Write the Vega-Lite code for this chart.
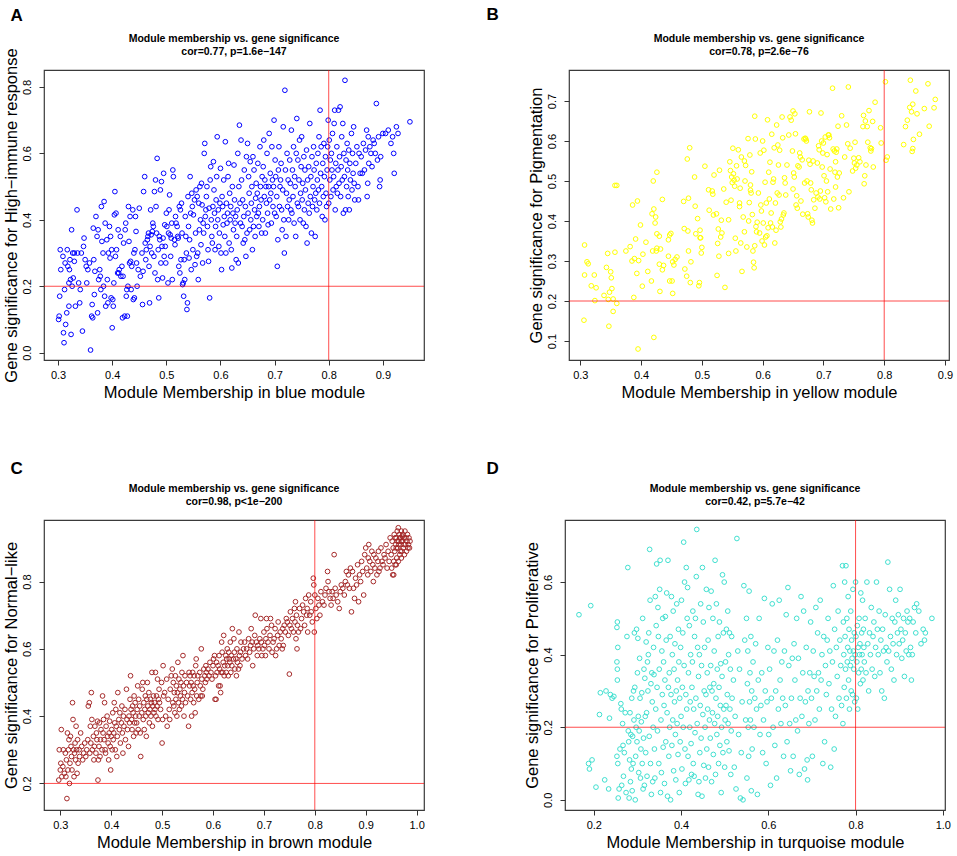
{
  "$schema": "https://vega.github.io/schema/vega-lite/v6.json",
  "background": "white",
  "padding": {"left": 2, "top": 6, "right": 0, "bottom": 0},
  "config": {
    "font": "Liberation Sans",
    "view": {"stroke": "#3a3a3a", "strokeWidth": 1.2},
    "title": {"font": "Liberation Sans", "fontSize": 10.5, "fontWeight": "bold", "lineHeight": 13, "offset": 12, "anchor": "middle", "frame": "group", "color": "#000"},
    "axis": {"domain": false, "grid": false, "tickColor": "#333", "tickSize": 5, "tickWidth": 1, "labelFont": "Liberation Sans", "labelFontSize": 11, "labelColor": "#000", "labelPadding": 4, "labelFlush": false, "labelOverlap": false, "titleFont": "Liberation Sans", "titleFontSize": 16.5, "titleFontWeight": "normal", "titleColor": "#000", "titlePadding": 4},
    "axisY": {"labelAngle": -90, "labelAlign": "center", "labelBaseline": "bottom", "labelPadding": 7, "titlePadding": 2}
  },
  "datasets": {
    "A": [
      {"x":0.301,"y":0.10},{"x":0.302,"y":0.11},{"x":0.303,"y":0.17},{"x":0.304,"y":0.31},{"x":0.305,"y":0.25},{"x":0.309,"y":0.29},{"x":0.31,"y":0.06},{"x":0.311,"y":0.03},{"x":0.312,"y":0.19},{"x":0.313,"y":0.27},{"x":0.314,"y":0.085},{"x":0.316,"y":0.12},{"x":0.317,"y":0.31},{"x":0.318,"y":0.26},{"x":0.32,"y":0.14},{"x":0.32,"y":0.21},{"x":0.321,"y":0.25},{"x":0.322,"y":0.28},{"x":0.323,"y":0.22},{"x":0.324,"y":0.055},{"x":0.325,"y":0.37},{"x":0.326,"y":0.2},{"x":0.327,"y":0.3},{"x":0.328,"y":0.225},{"x":0.33,"y":0.3},{"x":0.33,"y":0.275},{"x":0.332,"y":0.14},{"x":0.335,"y":0.43},{"x":0.336,"y":0.3},{"x":0.338,"y":0.21},{"x":0.34,"y":0.15},{"x":0.341,"y":0.19},{"x":0.343,"y":0.3},{"x":0.345,"y":0.065},{"x":0.347,"y":0.32},{"x":0.348,"y":0.345},{"x":0.35,"y":0.28},{"x":0.352,"y":0.26},{"x":0.353,"y":0.21},{"x":0.355,"y":0.25},
      {"x":0.358,"y":0.27},{"x":0.36,"y":0.008},{"x":0.362,"y":0.11},{"x":0.363,"y":0.145},{"x":0.364,"y":0.105},{"x":0.365,"y":0.375},{"x":0.366,"y":0.28},{"x":0.367,"y":0.175},{"x":0.368,"y":0.245},{"x":0.37,"y":0.41},{"x":0.372,"y":0.35},{"x":0.373,"y":0.12},{"x":0.374,"y":0.37},{"x":0.375,"y":0.22},{"x":0.377,"y":0.25},{"x":0.378,"y":0.23},{"x":0.379,"y":0.19},{"x":0.38,"y":0.44},{"x":0.381,"y":0.335},{"x":0.383,"y":0.3},{"x":0.384,"y":0.2},{"x":0.385,"y":0.455},{"x":0.386,"y":0.17},{"x":0.387,"y":0.39},{"x":0.388,"y":0.14},{"x":0.39,"y":0.34},{"x":0.391,"y":0.22},{"x":0.392,"y":0.15},{"x":0.393,"y":0.3},{"x":0.395,"y":0.38},{"x":0.396,"y":0.285},{"x":0.397,"y":0.35},{"x":0.398,"y":0.165},{"x":0.399,"y":0.31},{"x":0.4,"y":0.075},
      {"x":0.401,"y":0.16},{"x":0.402,"y":0.14},{"x":0.403,"y":0.21},{"x":0.404,"y":0.415},{"x":0.405,"y":0.485},{"x":0.406,"y":0.29},{"x":0.407,"y":0.42},{"x":0.408,"y":0.31},{"x":0.41,"y":0.24},{"x":0.411,"y":0.37},{"x":0.412,"y":0.24},{"x":0.413,"y":0.25},{"x":0.415,"y":0.35},{"x":0.416,"y":0.23},{"x":0.418,"y":0.26},{"x":0.419,"y":0.105},{"x":0.42,"y":0.23},{"x":0.421,"y":0.33},{"x":0.423,"y":0.11},{"x":0.424,"y":0.37},{"x":0.425,"y":0.39},{"x":0.426,"y":0.17},{"x":0.427,"y":0.19},{"x":0.428,"y":0.11},{"x":0.429,"y":0.2},{"x":0.43,"y":0.44},{"x":0.431,"y":0.335},{"x":0.432,"y":0.27},{"x":0.433,"y":0.41},{"x":0.434,"y":0.275},{"x":0.435,"y":0.19},{"x":0.436,"y":0.26},{"x":0.438,"y":0.43},{"x":0.439,"y":0.16},{"x":0.44,"y":0.3},{"x":0.441,"y":0.165},{"x":0.442,"y":0.31},{"x":0.443,"y":0.41},{"x":0.444,"y":0.365},{"x":0.445,"y":0.27},{"x":0.446,"y":0.2},{"x":0.448,"y":0.25},{"x":0.45,"y":0.435},
      {"x":0.452,"y":0.23},{"x":0.455,"y":0.3},{"x":0.456,"y":0.145},{"x":0.457,"y":0.245},{"x":0.458,"y":0.485},{"x":0.46,"y":0.53},{"x":0.461,"y":0.33},{"x":0.462,"y":0.28},{"x":0.463,"y":0.31},{"x":0.465,"y":0.34},{"x":0.466,"y":0.35},{"x":0.467,"y":0.36},{"x":0.468,"y":0.26},{"x":0.469,"y":0.15},{"x":0.47,"y":0.32},{"x":0.471,"y":0.43},{"x":0.472,"y":0.355},{"x":0.473,"y":0.3},{"x":0.474,"y":0.365},{"x":0.475,"y":0.39},{"x":0.476,"y":0.38},{"x":0.477,"y":0.29},{"x":0.478,"y":0.485},{"x":0.479,"y":0.24},{"x":0.48,"y":0.52},{"x":0.481,"y":0.44},{"x":0.482,"y":0.36},{"x":0.483,"y":0.585},{"x":0.484,"y":0.22},{"x":0.485,"y":0.31},{"x":0.486,"y":0.165},{"x":0.487,"y":0.35},{"x":0.488,"y":0.34},{"x":0.489,"y":0.49},{"x":0.49,"y":0.27},{"x":0.491,"y":0.515},{"x":0.492,"y":0.32},{"x":0.493,"y":0.225},{"x":0.494,"y":0.345},{"x":0.495,"y":0.54},{"x":0.496,"y":0.29},{"x":0.497,"y":0.385},{"x":0.498,"y":0.32},{"x":0.499,"y":0.27},{"x":0.5,"y":0.42},
      {"x":0.501,"y":0.38},{"x":0.503,"y":0.21},{"x":0.504,"y":0.36},{"x":0.505,"y":0.43},{"x":0.506,"y":0.475},{"x":0.507,"y":0.355},{"x":0.508,"y":0.29},{"x":0.509,"y":0.345},{"x":0.51,"y":0.39},{"x":0.511,"y":0.22},{"x":0.512,"y":0.55},{"x":0.513,"y":0.53},{"x":0.515,"y":0.34},{"x":0.516,"y":0.325},{"x":0.517,"y":0.41},{"x":0.518,"y":0.39},{"x":0.52,"y":0.38},{"x":0.521,"y":0.35},{"x":0.522,"y":0.345},{"x":0.523,"y":0.26},{"x":0.524,"y":0.44},{"x":0.525,"y":0.24},{"x":0.526,"y":0.43},{"x":0.527,"y":0.28},{"x":0.528,"y":0.45},{"x":0.529,"y":0.36},{"x":0.53,"y":0.205},{"x":0.531,"y":0.21},{"x":0.532,"y":0.17},{"x":0.533,"y":0.28},{"x":0.534,"y":0.22},{"x":0.535,"y":0.41},{"x":0.536,"y":0.35},{"x":0.537,"y":0.3},{"x":0.538,"y":0.13},{"x":0.539,"y":0.15},{"x":0.54,"y":0.47},{"x":0.541,"y":0.38},{"x":0.542,"y":0.285},{"x":0.543,"y":0.34},{"x":0.544,"y":0.53},{"x":0.545,"y":0.42},{"x":0.546,"y":0.25},{"x":0.547,"y":0.48},{"x":0.548,"y":0.44},{"x":0.549,"y":0.31},
      {"x":0.55,"y":0.415},{"x":0.552,"y":0.46},{"x":0.553,"y":0.265},{"x":0.554,"y":0.36},{"x":0.555,"y":0.49},{"x":0.556,"y":0.29},{"x":0.557,"y":0.47},{"x":0.558,"y":0.3},{"x":0.559,"y":0.22},{"x":0.56,"y":0.45},{"x":0.561,"y":0.37},{"x":0.562,"y":0.5},{"x":0.563,"y":0.4},{"x":0.564,"y":0.325},{"x":0.565,"y":0.51},{"x":0.566,"y":0.445},{"x":0.567,"y":0.27},{"x":0.568,"y":0.39},{"x":0.569,"y":0.36},{"x":0.57,"y":0.6},{"x":0.571,"y":0.63},{"x":0.572,"y":0.41},{"x":0.573,"y":0.43},{"x":0.574,"y":0.47},{"x":0.575,"y":0.5},{"x":0.576,"y":0.38},{"x":0.577,"y":0.31},{"x":0.578,"y":0.275},{"x":0.579,"y":0.435},{"x":0.58,"y":0.165},{"x":0.581,"y":0.52},{"x":0.582,"y":0.56},{"x":0.583,"y":0.4},{"x":0.584,"y":0.35},{"x":0.585,"y":0.33},{"x":0.586,"y":0.44},{"x":0.587,"y":0.575},{"x":0.588,"y":0.49},{"x":0.589,"y":0.42},{"x":0.59,"y":0.31},{"x":0.591,"y":0.38},{"x":0.592,"y":0.46},{"x":0.593,"y":0.53},{"x":0.594,"y":0.65},{"x":0.595,"y":0.4},{"x":0.596,"y":0.43},{"x":0.597,"y":0.32},{"x":0.598,"y":0.36},{"x":0.599,"y":0.45},
      {"x":0.6,"y":0.555},{"x":0.601,"y":0.3},{"x":0.602,"y":0.25},{"x":0.603,"y":0.47},{"x":0.604,"y":0.44},{"x":0.605,"y":0.385},{"x":0.606,"y":0.52},{"x":0.607,"y":0.41},{"x":0.608,"y":0.35},{"x":0.609,"y":0.635},{"x":0.61,"y":0.3},{"x":0.611,"y":0.45},{"x":0.612,"y":0.39},{"x":0.613,"y":0.42},{"x":0.614,"y":0.53},{"x":0.615,"y":0.57},{"x":0.616,"y":0.33},{"x":0.617,"y":0.48},{"x":0.618,"y":0.4},{"x":0.619,"y":0.44},{"x":0.62,"y":0.31},{"x":0.621,"y":0.255},{"x":0.622,"y":0.5},{"x":0.623,"y":0.42},{"x":0.624,"y":0.37},{"x":0.625,"y":0.565},{"x":0.626,"y":0.46},{"x":0.627,"y":0.39},{"x":0.628,"y":0.41},{"x":0.629,"y":0.28},{"x":0.63,"y":0.35},{"x":0.631,"y":0.43},{"x":0.632,"y":0.6},{"x":0.633,"y":0.27},{"x":0.634,"y":0.5},{"x":0.635,"y":0.685},{"x":0.636,"y":0.45},{"x":0.637,"y":0.39},{"x":0.638,"y":0.64},{"x":0.639,"y":0.52},{"x":0.64,"y":0.38},{"x":0.641,"y":0.46},{"x":0.642,"y":0.33},{"x":0.643,"y":0.41},{"x":0.644,"y":0.55},{"x":0.645,"y":0.34},{"x":0.646,"y":0.44},{"x":0.647,"y":0.29},{"x":0.648,"y":0.59},{"x":0.649,"y":0.36},
      {"x":0.65,"y":0.63},{"x":0.651,"y":0.42},{"x":0.652,"y":0.53},{"x":0.653,"y":0.48},{"x":0.654,"y":0.37},{"x":0.655,"y":0.575},{"x":0.656,"y":0.4},{"x":0.657,"y":0.45},{"x":0.658,"y":0.5},{"x":0.659,"y":0.31},{"x":0.66,"y":0.59},{"x":0.661,"y":0.38},{"x":0.662,"y":0.55},{"x":0.663,"y":0.43},{"x":0.664,"y":0.35},{"x":0.665,"y":0.465},{"x":0.666,"y":0.51},{"x":0.667,"y":0.41},{"x":0.668,"y":0.48},{"x":0.669,"y":0.57},{"x":0.67,"y":0.42},{"x":0.671,"y":0.38},{"x":0.672,"y":0.44},{"x":0.673,"y":0.62},{"x":0.674,"y":0.5},{"x":0.675,"y":0.46},{"x":0.676,"y":0.36},{"x":0.677,"y":0.53},{"x":0.678,"y":0.4},{"x":0.679,"y":0.56},{"x":0.68,"y":0.64},{"x":0.681,"y":0.47},{"x":0.682,"y":0.52},{"x":0.683,"y":0.36},{"x":0.684,"y":0.5},{"x":0.685,"y":0.45},{"x":0.686,"y":0.6},{"x":0.687,"y":0.42},{"x":0.688,"y":0.385},{"x":0.689,"y":0.5},{"x":0.69,"y":0.66},{"x":0.691,"y":0.46},{"x":0.692,"y":0.54},{"x":0.693,"y":0.48},{"x":0.694,"y":0.39},{"x":0.695,"y":0.62},{"x":0.696,"y":0.52},{"x":0.697,"y":0.44},{"x":0.698,"y":0.5},{"x":0.699,"y":0.7},
      {"x":0.7,"y":0.42},{"x":0.701,"y":0.58},{"x":0.702,"y":0.53},{"x":0.703,"y":0.41},{"x":0.704,"y":0.47},{"x":0.705,"y":0.26},{"x":0.706,"y":0.34},{"x":0.707,"y":0.55},{"x":0.708,"y":0.62},{"x":0.709,"y":0.44},{"x":0.71,"y":0.5},{"x":0.711,"y":0.52},{"x":0.712,"y":0.57},{"x":0.713,"y":0.43},{"x":0.714,"y":0.37},{"x":0.715,"y":0.49},{"x":0.716,"y":0.68},{"x":0.717,"y":0.4},{"x":0.718,"y":0.3},{"x":0.719,"y":0.79},{"x":0.72,"y":0.55},{"x":0.721,"y":0.35},{"x":0.722,"y":0.48},{"x":0.723,"y":0.6},{"x":0.724,"y":0.44},{"x":0.725,"y":0.52},{"x":0.726,"y":0.4},{"x":0.727,"y":0.46},{"x":0.728,"y":0.58},{"x":0.729,"y":0.51},{"x":0.73,"y":0.43},{"x":0.731,"y":0.67},{"x":0.732,"y":0.42},{"x":0.733,"y":0.55},{"x":0.734,"y":0.47},{"x":0.735,"y":0.62},{"x":0.736,"y":0.39},{"x":0.737,"y":0.53},{"x":0.738,"y":0.5},{"x":0.739,"y":0.35},{"x":0.74,"y":0.6},{"x":0.741,"y":0.705},{"x":0.742,"y":0.45},{"x":0.743,"y":0.58},{"x":0.744,"y":0.44},{"x":0.745,"y":0.52},{"x":0.746,"y":0.64},{"x":0.747,"y":0.4},{"x":0.748,"y":0.48},{"x":0.749,"y":0.56},
      {"x":0.75,"y":0.65},{"x":0.751,"y":0.46},{"x":0.752,"y":0.51},{"x":0.753,"y":0.39},{"x":0.754,"y":0.59},{"x":0.755,"y":0.43},{"x":0.756,"y":0.55},{"x":0.757,"y":0.49},{"x":0.758,"y":0.38},{"x":0.759,"y":0.61},{"x":0.76,"y":0.33},{"x":0.761,"y":0.52},{"x":0.762,"y":0.45},{"x":0.763,"y":0.56},{"x":0.764,"y":0.42},{"x":0.765,"y":0.69},{"x":0.766,"y":0.47},{"x":0.767,"y":0.53},{"x":0.768,"y":0.36},{"x":0.769,"y":0.59},{"x":0.77,"y":0.44},{"x":0.771,"y":0.5},{"x":0.772,"y":0.62},{"x":0.773,"y":0.55},{"x":0.774,"y":0.46},{"x":0.775,"y":0.35},{"x":0.776,"y":0.48},{"x":0.777,"y":0.57},{"x":0.778,"y":0.43},{"x":0.779,"y":0.52},{"x":0.78,"y":0.6},{"x":0.781,"y":0.49},{"x":0.782,"y":0.65},{"x":0.783,"y":0.45},{"x":0.784,"y":0.73},{"x":0.785,"y":0.54},{"x":0.786,"y":0.62},{"x":0.787,"y":0.5},{"x":0.788,"y":0.41},{"x":0.789,"y":0.57},{"x":0.79,"y":0.47},{"x":0.791,"y":0.63},{"x":0.792,"y":0.53},{"x":0.793,"y":0.4},{"x":0.794,"y":0.59},{"x":0.795,"y":0.48},{"x":0.796,"y":0.44},{"x":0.797,"y":0.55},{"x":0.798,"y":0.62},{"x":0.799,"y":0.7},
      {"x":0.8,"y":0.45},{"x":0.801,"y":0.64},{"x":0.802,"y":0.52},{"x":0.803,"y":0.58},{"x":0.804,"y":0.47},{"x":0.805,"y":0.6},{"x":0.806,"y":0.55},{"x":0.807,"y":0.66},{"x":0.808,"y":0.49},{"x":0.809,"y":0.53},{"x":0.81,"y":0.69},{"x":0.811,"y":0.73},{"x":0.812,"y":0.43},{"x":0.813,"y":0.57},{"x":0.814,"y":0.5},{"x":0.815,"y":0.62},{"x":0.816,"y":0.48},{"x":0.817,"y":0.55},{"x":0.818,"y":0.73},{"x":0.819,"y":0.51},{"x":0.82,"y":0.59},{"x":0.821,"y":0.74},{"x":0.822,"y":0.47},{"x":0.823,"y":0.56},{"x":0.824,"y":0.65},{"x":0.825,"y":0.52},{"x":0.826,"y":0.69},{"x":0.827,"y":0.42},{"x":0.828,"y":0.6},{"x":0.829,"y":0.53},{"x":0.83,"y":0.82},{"x":0.831,"y":0.43},{"x":0.832,"y":0.58},{"x":0.833,"y":0.5},{"x":0.834,"y":0.63},{"x":0.835,"y":0.55},{"x":0.836,"y":0.47},{"x":0.837,"y":0.61},{"x":0.838,"y":0.43},{"x":0.839,"y":0.57},{"x":0.84,"y":0.52},{"x":0.842,"y":0.66},{"x":0.843,"y":0.49},{"x":0.844,"y":0.6},{"x":0.845,"y":0.54},{"x":0.846,"y":0.68},{"x":0.847,"y":0.51},{"x":0.848,"y":0.46},
      {"x":0.85,"y":0.57},{"x":0.852,"y":0.62},{"x":0.854,"y":0.5},{"x":0.855,"y":0.46},{"x":0.856,"y":0.6},{"x":0.858,"y":0.54},{"x":0.86,"y":0.59},{"x":0.862,"y":0.54},{"x":0.864,"y":0.63},{"x":0.866,"y":0.55},{"x":0.868,"y":0.61},{"x":0.87,"y":0.67},{"x":0.871,"y":0.47},{"x":0.872,"y":0.51},{"x":0.873,"y":0.65},{"x":0.874,"y":0.57},{"x":0.876,"y":0.62},{"x":0.878,"y":0.6},{"x":0.88,"y":0.56},{"x":0.882,"y":0.64},{"x":0.884,"y":0.63},{"x":0.886,"y":0.6},{"x":0.888,"y":0.75},{"x":0.89,"y":0.58},{"x":0.892,"y":0.65},{"x":0.894,"y":0.5},{"x":0.895,"y":0.52},{"x":0.896,"y":0.59},{"x":0.9,"y":0.66},{"x":0.905,"y":0.66},{"x":0.91,"y":0.67},{"x":0.915,"y":0.63},{"x":0.918,"y":0.65},{"x":0.92,"y":0.6},{"x":0.921,"y":0.54},{"x":0.925,"y":0.68},{"x":0.928,"y":0.66},{"x":0.95,"y":0.695}
    ],
    "B": [
      {"x":0.307,"y":0.34},{"x":0.307,"y":0.265},{"x":0.306,"y":0.152},{"x":0.311,"y":0.298},{"x":0.313,"y":0.293},{"x":0.318,"y":0.238},{"x":0.323,"y":0.265},{"x":0.324,"y":0.201},{"x":0.326,"y":0.233},{"x":0.339,"y":0.214},{"x":0.343,"y":0.284},{"x":0.345,"y":0.319},{"x":0.346,"y":0.204},{"x":0.347,"y":0.137},{"x":0.348,"y":0.222},{"x":0.35,"y":0.273},{"x":0.351,"y":0.258},{"x":0.352,"y":0.231},{"x":0.354,"y":0.174},{"x":0.354,"y":0.205},{"x":0.357,"y":0.489},{"x":0.36,"y":0.489},{"x":0.357,"y":0.322},{"x":0.36,"y":0.194},{"x":0.375,"y":0.325},{"x":0.382,"y":0.336},{"x":0.385,"y":0.3},{"x":0.386,"y":0.44},{"x":0.389,"y":0.306},{"x":0.388,"y":0.209},{"x":0.391,"y":0.355},{"x":0.393,"y":0.269},{"x":0.394,"y":0.45},{"x":0.395,"y":0.08},{"x":0.396,"y":0.301},{"x":0.399,"y":0.39},
      {"x":0.402,"y":0.237},{"x":0.403,"y":0.317},{"x":0.408,"y":0.347},{"x":0.411,"y":0.274},{"x":0.417,"y":0.25},{"x":0.418,"y":0.418},{"x":0.419,"y":0.325},{"x":0.42,"y":0.5},{"x":0.421,"y":0.43},{"x":0.421,"y":0.109},{"x":0.423,"y":0.395},{"x":0.424,"y":0.41},{"x":0.425,"y":0.325},{"x":0.426,"y":0.522},{"x":0.426,"y":0.368},{"x":0.426,"y":0.332},{"x":0.43,"y":0.362},{"x":0.43,"y":0.292},{"x":0.431,"y":0.224},{"x":0.432,"y":0.33},{"x":0.435,"y":0.454},{"x":0.435,"y":0.278},{"x":0.437,"y":0.289},{"x":0.445,"y":0.312},{"x":0.445,"y":0.353},{"x":0.447,"y":0.365},{"x":0.447,"y":0.25},{"x":0.449,"y":0.369},{"x":0.451,"y":0.25},{"x":0.452,"y":0.219},{"x":0.452,"y":0.298},{"x":0.454,"y":0.29},{"x":0.456,"y":0.304},{"x":0.459,"y":0.31},{"x":0.47,"y":0.449},{"x":0.471,"y":0.381},{"x":0.472,"y":0.28},{"x":0.475,"y":0.262},{"x":0.476,"y":0.555},{"x":0.477,"y":0.375},{"x":0.478,"y":0.457},{"x":0.478,"y":0.325},{"x":0.48,"y":0.583},{"x":0.481,"y":0.246},{"x":0.482,"y":0.298},{"x":0.488,"y":0.51},{"x":0.489,"y":0.437},{"x":0.49,"y":0.368},{"x":0.493,"y":0.406},{"x":0.495,"y":0.238},{"x":0.496,"y":0.246},{"x":0.497,"y":0.377},{"x":0.497,"y":0.358},{"x":0.498,"y":0.358},{"x":0.499,"y":0.32},{"x":0.5,"y":0.334},
      {"x":0.505,"y":0.537},{"x":0.511,"y":0.478},{"x":0.512,"y":0.427},{"x":0.517,"y":0.475},{"x":0.518,"y":0.467},{"x":0.519,"y":0.415},{"x":0.52,"y":0.515},{"x":0.524,"y":0.418},{"x":0.525,"y":0.264},{"x":0.526,"y":0.344},{"x":0.527,"y":0.38},{"x":0.528,"y":0.312},{"x":0.529,"y":0.527},{"x":0.531,"y":0.36},{"x":0.532,"y":0.402},{"x":0.533,"y":0.37},{"x":0.536,"y":0.48},{"x":0.538,"y":0.234},{"x":0.54,"y":0.447},{"x":0.544,"y":0.403},{"x":0.544,"y":0.319},{"x":0.546,"y":0.548},{"x":0.547,"y":0.526},{"x":0.548,"y":0.452},{"x":0.549,"y":0.51},{"x":0.55,"y":0.496},{"x":0.551,"y":0.582},{"x":0.552,"y":0.518},{"x":0.553,"y":0.502},{"x":0.554,"y":0.487},{"x":0.555,"y":0.357},{"x":0.556,"y":0.325},{"x":0.557,"y":0.538},{"x":0.558,"y":0.505},{"x":0.56,"y":0.578},{"x":0.562,"y":0.436},{"x":0.562,"y":0.445},{"x":0.563,"y":0.482},{"x":0.564,"y":0.345},{"x":0.565,"y":0.56},{"x":0.566,"y":0.274},{"x":0.568,"y":0.41},{"x":0.57,"y":0.373},{"x":0.57,"y":0.55},{"x":0.571,"y":0.5},{"x":0.572,"y":0.539},{"x":0.574,"y":0.335},{"x":0.576,"y":0.606},{"x":0.577,"y":0.4},{"x":0.578,"y":0.446},{"x":0.579,"y":0.565},{"x":0.58,"y":0.49},{"x":0.58,"y":0.477},{"x":0.581,"y":0.47},{"x":0.582,"y":0.523},{"x":0.583,"y":0.416},{"x":0.584,"y":0.325},{"x":0.585,"y":0.297},{"x":0.586,"y":0.283},{"x":0.587,"y":0.338},{"x":0.587,"y":0.662},{"x":0.588,"y":0.605},{"x":0.589,"y":0.386},{"x":0.59,"y":0.373},{"x":0.591,"y":0.397},{"x":0.593,"y":0.47},{"x":0.595,"y":0.37},{"x":0.596,"y":0.57},{"x":0.597,"y":0.44},{"x":0.598,"y":0.425},{"x":0.599,"y":0.35},
      {"x":0.6,"y":0.6},{"x":0.601,"y":0.395},{"x":0.602,"y":0.577},{"x":0.603,"y":0.34},{"x":0.604,"y":0.497},{"x":0.605,"y":0.36},{"x":0.606,"y":0.445},{"x":0.607,"y":0.363},{"x":0.608,"y":0.653},{"x":0.609,"y":0.383},{"x":0.61,"y":0.522},{"x":0.611,"y":0.455},{"x":0.612,"y":0.547},{"x":0.613,"y":0.395},{"x":0.614,"y":0.42},{"x":0.615,"y":0.617},{"x":0.616,"y":0.385},{"x":0.617,"y":0.497},{"x":0.618,"y":0.505},{"x":0.619,"y":0.583},{"x":0.62,"y":0.345},{"x":0.621,"y":0.445},{"x":0.622,"y":0.377},{"x":0.623,"y":0.64},{"x":0.624,"y":0.47},{"x":0.625,"y":0.59},{"x":0.626,"y":0.54},{"x":0.627,"y":0.465},{"x":0.628,"y":0.577},{"x":0.629,"y":0.398},{"x":0.63,"y":0.385},{"x":0.631,"y":0.405},{"x":0.632,"y":0.66},{"x":0.633,"y":0.608},{"x":0.634,"y":0.415},{"x":0.635,"y":0.42},{"x":0.636,"y":0.508},{"x":0.637,"y":0.495},{"x":0.638,"y":0.465},{"x":0.64,"y":0.54},{"x":0.643,"y":0.615},{"x":0.645,"y":0.66},{"x":0.647,"y":0.652},{"x":0.649,"y":0.575},{"x":0.65,"y":0.675},{"x":0.65,"y":0.48},{"x":0.651,"y":0.52},{"x":0.652,"y":0.51},{"x":0.653,"y":0.668},{"x":0.654,"y":0.618},{"x":0.655,"y":0.44},{"x":0.656,"y":0.463},{"x":0.657,"y":0.432},{"x":0.658,"y":0.538},{"x":0.66,"y":0.535},{"x":0.661,"y":0.57},{"x":0.662,"y":0.56},{"x":0.663,"y":0.45},{"x":0.665,"y":0.553},{"x":0.666,"y":0.417},{"x":0.668,"y":0.605},{"x":0.669,"y":0.495},{"x":0.67,"y":0.607},{"x":0.671,"y":0.605},{"x":0.672,"y":0.6},{"x":0.673,"y":0.5},{"x":0.674,"y":0.418},{"x":0.675,"y":0.41},{"x":0.676,"y":0.552},{"x":0.677,"y":0.673},{"x":0.678,"y":0.542},{"x":0.679,"y":0.495},{"x":0.68,"y":0.478},{"x":0.681,"y":0.402},{"x":0.682,"y":0.395},{"x":0.683,"y":0.55},{"x":0.684,"y":0.453},{"x":0.686,"y":0.432},{"x":0.688,"y":0.47},{"x":0.69,"y":0.545},{"x":0.691,"y":0.46},{"x":0.692,"y":0.588},{"x":0.693,"y":0.578},{"x":0.694,"y":0.455},{"x":0.695,"y":0.475},{"x":0.696,"y":0.67},{"x":0.697,"y":0.6},{"x":0.698,"y":0.535},{"x":0.699,"y":0.57},{"x":0.7,"y":0.595},
      {"x":0.701,"y":0.513},{"x":0.702,"y":0.458},{"x":0.703,"y":0.61},{"x":0.704,"y":0.448},{"x":0.705,"y":0.5},{"x":0.706,"y":0.566},{"x":0.707,"y":0.473},{"x":0.708,"y":0.615},{"x":0.709,"y":0.615},{"x":0.71,"y":0.608},{"x":0.711,"y":0.53},{"x":0.712,"y":0.43},{"x":0.715,"y":0.732},{"x":0.716,"y":0.58},{"x":0.717,"y":0.455},{"x":0.718,"y":0.575},{"x":0.719,"y":0.522},{"x":0.72,"y":0.485},{"x":0.72,"y":0.548},{"x":0.721,"y":0.572},{"x":0.722,"y":0.58},{"x":0.723,"y":0.51},{"x":0.724,"y":0.637},{"x":0.725,"y":0.433},{"x":0.726,"y":0.52},{"x":0.73,"y":0.663},{"x":0.733,"y":0.458},{"x":0.735,"y":0.56},{"x":0.738,"y":0.64},{"x":0.74,"y":0.593},{"x":0.741,"y":0.735},{"x":0.742,"y":0.473},{"x":0.744,"y":0.582},{"x":0.748,"y":0.525},{"x":0.75,"y":0.557},{"x":0.751,"y":0.545},{"x":0.752,"y":0.597},{"x":0.753,"y":0.532},{"x":0.755,"y":0.54},{"x":0.758,"y":0.558},{"x":0.76,"y":0.548},{"x":0.765,"y":0.636},{"x":0.766,"y":0.664},{"x":0.767,"y":0.493},{"x":0.768,"y":0.513},{"x":0.769,"y":0.65},{"x":0.77,"y":0.54},{"x":0.772,"y":0.636},{"x":0.773,"y":0.597},{"x":0.775,"y":0.676},{"x":0.777,"y":0.583},{"x":0.778,"y":0.575},{"x":0.779,"y":0.581},{"x":0.781,"y":0.649},{"x":0.782,"y":0.535},{"x":0.785,"y":0.697},{"x":0.794,"y":0.633},{"x":0.795,"y":0.595},
      {"x":0.802,"y":0.748},{"x":0.803,"y":0.552},{"x":0.805,"y":0.56},{"x":0.832,"y":0.591},{"x":0.835,"y":0.636},{"x":0.838,"y":0.652},{"x":0.842,"y":0.684},{"x":0.843,"y":0.752},{"x":0.845,"y":0.673},{"x":0.846,"y":0.574},{"x":0.847,"y":0.692},{"x":0.847,"y":0.581},{"x":0.848,"y":0.604},{"x":0.852,"y":0.725},{"x":0.854,"y":0.668},{"x":0.858,"y":0.617},{"x":0.866,"y":0.681},{"x":0.872,"y":0.743},{"x":0.874,"y":0.637},{"x":0.882,"y":0.683},{"x":0.884,"y":0.704}
    ],
    "C": [
      {"x":0.297,"y":0.21},{"x":0.298,"y":0.30},{"x":0.3,"y":0.24},{"x":0.301,"y":0.26},{"x":0.302,"y":0.36},{"x":0.303,"y":0.22},{"x":0.305,"y":0.25},{"x":0.306,"y":0.30},{"x":0.308,"y":0.23},{"x":0.31,"y":0.29},{"x":0.311,"y":0.22},{"x":0.312,"y":0.27},{"x":0.313,"y":0.155},{"x":0.314,"y":0.35},{"x":0.315,"y":0.24},{"x":0.316,"y":0.3},{"x":0.317,"y":0.33},{"x":0.318,"y":0.2},{"x":0.319,"y":0.26},{"x":0.32,"y":0.34},{"x":0.321,"y":0.31},{"x":0.322,"y":0.28},{"x":0.323,"y":0.24},{"x":0.324,"y":0.44},{"x":0.325,"y":0.39},{"x":0.326,"y":0.3},{"x":0.327,"y":0.22},{"x":0.328,"y":0.29},{"x":0.329,"y":0.32},{"x":0.33,"y":0.27},{"x":0.331,"y":0.37},{"x":0.332,"y":0.3},{"x":0.333,"y":0.23},{"x":0.334,"y":0.33},{"x":0.335,"y":0.26},{"x":0.337,"y":0.3},{"x":0.338,"y":0.28},{"x":0.34,"y":0.35},{"x":0.342,"y":0.31},{"x":0.344,"y":0.27},{"x":0.346,"y":0.29},{"x":0.348,"y":0.32},{"x":0.35,"y":0.28},
      {"x":0.352,"y":0.3},{"x":0.354,"y":0.33},{"x":0.355,"y":0.43},{"x":0.357,"y":0.44},{"x":0.358,"y":0.29},{"x":0.359,"y":0.37},{"x":0.36,"y":0.32},{"x":0.361,"y":0.47},{"x":0.362,"y":0.39},{"x":0.363,"y":0.3},{"x":0.365,"y":0.34},{"x":0.366,"y":0.27},{"x":0.367,"y":0.31},{"x":0.368,"y":0.37},{"x":0.37,"y":0.29},{"x":0.371,"y":0.35},{"x":0.372,"y":0.33},{"x":0.373,"y":0.385},{"x":0.374,"y":0.21},{"x":0.375,"y":0.27},{"x":0.376,"y":0.31},{"x":0.377,"y":0.38},{"x":0.378,"y":0.28},{"x":0.379,"y":0.33},{"x":0.38,"y":0.36},{"x":0.382,"y":0.3},{"x":0.383,"y":0.46},{"x":0.384,"y":0.35},{"x":0.385,"y":0.39},{"x":0.386,"y":0.33},{"x":0.387,"y":0.44},{"x":0.388,"y":0.3},{"x":0.389,"y":0.29},{"x":0.39,"y":0.37},{"x":0.392,"y":0.4},{"x":0.393,"y":0.34},{"x":0.394,"y":0.32},{"x":0.395,"y":0.27},{"x":0.396,"y":0.35},{"x":0.397,"y":0.385},{"x":0.398,"y":0.31},{"x":0.399,"y":0.24},{"x":0.4,"y":0.34},
      {"x":0.401,"y":0.36},{"x":0.402,"y":0.3},{"x":0.403,"y":0.41},{"x":0.404,"y":0.33},{"x":0.405,"y":0.35},{"x":0.406,"y":0.44},{"x":0.407,"y":0.38},{"x":0.408,"y":0.3},{"x":0.409,"y":0.42},{"x":0.41,"y":0.37},{"x":0.411,"y":0.28},{"x":0.412,"y":0.34},{"x":0.413,"y":0.47},{"x":0.415,"y":0.39},{"x":0.416,"y":0.36},{"x":0.417,"y":0.41},{"x":0.418,"y":0.32},{"x":0.42,"y":0.38},{"x":0.421,"y":0.43},{"x":0.422,"y":0.35},{"x":0.423,"y":0.29},{"x":0.424,"y":0.4},{"x":0.425,"y":0.37},{"x":0.427,"y":0.42},{"x":0.428,"y":0.33},{"x":0.43,"y":0.48},{"x":0.431,"y":0.39},{"x":0.432,"y":0.36},{"x":0.434,"y":0.31},{"x":0.435,"y":0.4},{"x":0.436,"y":0.38},{"x":0.437,"y":0.45},{"x":0.438,"y":0.52},{"x":0.439,"y":0.42},{"x":0.44,"y":0.39},{"x":0.441,"y":0.36},{"x":0.442,"y":0.43},{"x":0.443,"y":0.41},{"x":0.444,"y":0.34},{"x":0.445,"y":0.46},{"x":0.446,"y":0.38},{"x":0.447,"y":0.44},{"x":0.448,"y":0.4},{"x":0.449,"y":0.35},
      {"x":0.45,"y":0.38},{"x":0.451,"y":0.42},{"x":0.452,"y":0.49},{"x":0.453,"y":0.36},{"x":0.454,"y":0.45},{"x":0.455,"y":0.4},{"x":0.456,"y":0.43},{"x":0.457,"y":0.35},{"x":0.458,"y":0.28},{"x":0.46,"y":0.41},{"x":0.461,"y":0.48},{"x":0.462,"y":0.5},{"x":0.463,"y":0.39},{"x":0.464,"y":0.44},{"x":0.465,"y":0.36},{"x":0.466,"y":0.42},{"x":0.467,"y":0.46},{"x":0.468,"y":0.4},{"x":0.469,"y":0.34},{"x":0.47,"y":0.45},{"x":0.471,"y":0.5},{"x":0.472,"y":0.43},{"x":0.473,"y":0.41},{"x":0.474,"y":0.47},{"x":0.475,"y":0.38},{"x":0.476,"y":0.42},{"x":0.477,"y":0.45},{"x":0.478,"y":0.4},{"x":0.479,"y":0.44},{"x":0.48,"y":0.53},{"x":0.481,"y":0.37},{"x":0.482,"y":0.43},{"x":0.483,"y":0.46},{"x":0.484,"y":0.41},{"x":0.485,"y":0.44},{"x":0.486,"y":0.42},{"x":0.487,"y":0.53},{"x":0.488,"y":0.4},{"x":0.489,"y":0.46},{"x":0.49,"y":0.43},{"x":0.491,"y":0.51},{"x":0.492,"y":0.39},{"x":0.493,"y":0.45},{"x":0.494,"y":0.48},{"x":0.495,"y":0.44},{"x":0.497,"y":0.42},{"x":0.499,"y":0.5},
      {"x":0.5,"y":0.32},{"x":0.501,"y":0.39},{"x":0.502,"y":0.55},{"x":0.503,"y":0.46},{"x":0.505,"y":0.47},{"x":0.507,"y":0.4},{"x":0.509,"y":0.51},{"x":0.51,"y":0.37},{"x":0.512,"y":0.45},{"x":0.514,"y":0.42},{"x":0.515,"y":0.39},{"x":0.516,"y":0.48},{"x":0.518,"y":0.52},{"x":0.52,"y":0.54},{"x":0.521,"y":0.44},{"x":0.522,"y":0.5},{"x":0.523,"y":0.43},{"x":0.524,"y":0.47},{"x":0.525,"y":0.41},{"x":0.526,"y":0.52},{"x":0.527,"y":0.45},{"x":0.528,"y":0.49},{"x":0.529,"y":0.4},{"x":0.53,"y":0.47},{"x":0.531,"y":0.56},{"x":0.532,"y":0.44},{"x":0.533,"y":0.51},{"x":0.534,"y":0.42},{"x":0.535,"y":0.48},{"x":0.536,"y":0.46},{"x":0.537,"y":0.5},{"x":0.538,"y":0.43},{"x":0.539,"y":0.53},{"x":0.54,"y":0.45},{"x":0.541,"y":0.58},{"x":0.542,"y":0.49},{"x":0.543,"y":0.4},{"x":0.544,"y":0.47},{"x":0.545,"y":0.52},{"x":0.546,"y":0.44},{"x":0.548,"y":0.5},{"x":0.55,"y":0.46},
      {"x":0.552,"y":0.37},{"x":0.553,"y":0.53},{"x":0.554,"y":0.49},{"x":0.555,"y":0.52},{"x":0.556,"y":0.45},{"x":0.557,"y":0.5},{"x":0.558,"y":0.4},{"x":0.559,"y":0.47},{"x":0.56,"y":0.53},{"x":0.561,"y":0.49},{"x":0.562,"y":0.44},{"x":0.563,"y":0.52},{"x":0.564,"y":0.48},{"x":0.565,"y":0.41},{"x":0.566,"y":0.55},{"x":0.567,"y":0.57},{"x":0.568,"y":0.46},{"x":0.569,"y":0.5},{"x":0.57,"y":0.52},{"x":0.572,"y":0.45},{"x":0.574,"y":0.53},{"x":0.575,"y":0.49},{"x":0.576,"y":0.46},{"x":0.577,"y":0.6},{"x":0.578,"y":0.51},{"x":0.579,"y":0.46},{"x":0.58,"y":0.48},{"x":0.582,"y":0.54},{"x":0.584,"y":0.52},{"x":0.585,"y":0.5},{"x":0.586,"y":0.55},{"x":0.587,"y":0.53},{"x":0.588,"y":0.51},{"x":0.59,"y":0.54},{"x":0.592,"y":0.52},{"x":0.594,"y":0.56},{"x":0.596,"y":0.53},{"x":0.598,"y":0.51},{"x":0.6,"y":0.55},
      {"x":0.601,"y":0.57},{"x":0.603,"y":0.58},{"x":0.604,"y":0.45},{"x":0.605,"y":0.52},{"x":0.606,"y":0.45},{"x":0.607,"y":0.56},{"x":0.608,"y":0.53},{"x":0.61,"y":0.55},{"x":0.611,"y":0.49},{"x":0.612,"y":0.58},{"x":0.613,"y":0.54},{"x":0.614,"y":0.49},{"x":0.615,"y":0.47},{"x":0.616,"y":0.53},{"x":0.617,"y":0.62},{"x":0.618,"y":0.59},{"x":0.619,"y":0.53},{"x":0.62,"y":0.56},{"x":0.621,"y":0.64},{"x":0.622,"y":0.52},{"x":0.623,"y":0.55},{"x":0.625,"y":0.58},{"x":0.626,"y":0.53},{"x":0.627,"y":0.57},{"x":0.628,"y":0.6},{"x":0.629,"y":0.55},{"x":0.63,"y":0.52},{"x":0.631,"y":0.59},{"x":0.632,"y":0.57},{"x":0.633,"y":0.56},{"x":0.634,"y":0.62},{"x":0.635,"y":0.53},{"x":0.636,"y":0.58},{"x":0.637,"y":0.55},{"x":0.638,"y":0.66},{"x":0.64,"y":0.57},{"x":0.641,"y":0.63},{"x":0.642,"y":0.59},{"x":0.643,"y":0.54},{"x":0.645,"y":0.57},{"x":0.646,"y":0.52},{"x":0.647,"y":0.6},{"x":0.648,"y":0.56},{"x":0.65,"y":0.54},
      {"x":0.651,"y":0.65},{"x":0.652,"y":0.58},{"x":0.653,"y":0.55},{"x":0.654,"y":0.59},{"x":0.655,"y":0.62},{"x":0.657,"y":0.57},{"x":0.66,"y":0.6},{"x":0.662,"y":0.62},{"x":0.664,"y":0.58},{"x":0.666,"y":0.6},{"x":0.668,"y":0.57},{"x":0.67,"y":0.63},{"x":0.672,"y":0.59},{"x":0.674,"y":0.61},{"x":0.675,"y":0.66},{"x":0.677,"y":0.62},{"x":0.678,"y":0.55},{"x":0.68,"y":0.6},{"x":0.682,"y":0.64},{"x":0.683,"y":0.7},{"x":0.685,"y":0.62},{"x":0.687,"y":0.58},{"x":0.688,"y":0.61},{"x":0.69,"y":0.6},{"x":0.692,"y":0.63},{"x":0.694,"y":0.69},{"x":0.695,"y":0.62},{"x":0.696,"y":0.58},{"x":0.698,"y":0.6},{"x":0.7,"y":0.65},
      {"x":0.701,"y":0.61},{"x":0.703,"y":0.58},{"x":0.704,"y":0.63},{"x":0.705,"y":0.69},{"x":0.706,"y":0.66},{"x":0.708,"y":0.62},{"x":0.71,"y":0.6},{"x":0.712,"y":0.64},{"x":0.713,"y":0.69},{"x":0.715,"y":0.67},{"x":0.716,"y":0.59},{"x":0.718,"y":0.62},{"x":0.72,"y":0.63},{"x":0.722,"y":0.66},{"x":0.723,"y":0.58},{"x":0.725,"y":0.6},{"x":0.727,"y":0.64},{"x":0.728,"y":0.68},{"x":0.73,"y":0.61},{"x":0.732,"y":0.65},{"x":0.734,"y":0.63},{"x":0.736,"y":0.6},{"x":0.737,"y":0.66},{"x":0.738,"y":0.61},{"x":0.74,"y":0.67},{"x":0.742,"y":0.65},{"x":0.744,"y":0.69},{"x":0.746,"y":0.68},{"x":0.748,"y":0.64},{"x":0.75,"y":0.525},
      {"x":0.751,"y":0.67},{"x":0.752,"y":0.71},{"x":0.754,"y":0.66},{"x":0.756,"y":0.69},{"x":0.758,"y":0.65},{"x":0.76,"y":0.72},{"x":0.761,"y":0.68},{"x":0.762,"y":0.74},{"x":0.763,"y":0.63},{"x":0.764,"y":0.7},{"x":0.765,"y":0.6},{"x":0.766,"y":0.67},{"x":0.768,"y":0.65},{"x":0.77,"y":0.72},{"x":0.772,"y":0.66},{"x":0.774,"y":0.69},{"x":0.776,"y":0.73},{"x":0.778,"y":0.71},{"x":0.78,"y":0.67},{"x":0.782,"y":0.75},{"x":0.784,"y":0.7},{"x":0.785,"y":0.72},{"x":0.786,"y":0.65},{"x":0.788,"y":0.76},{"x":0.79,"y":0.7},{"x":0.792,"y":0.74},{"x":0.793,"y":0.71},{"x":0.795,"y":0.68},{"x":0.797,"y":0.81},{"x":0.798,"y":0.79},{"x":0.799,"y":0.65},
      {"x":0.8,"y":0.76},{"x":0.802,"y":0.72},{"x":0.804,"y":0.69},{"x":0.806,"y":0.75},{"x":0.808,"y":0.73},{"x":0.81,"y":0.7},{"x":0.812,"y":0.77},{"x":0.815,"y":0.74},{"x":0.818,"y":0.73},{"x":0.82,"y":0.76},{"x":0.822,"y":0.78},{"x":0.825,"y":0.83},{"x":0.826,"y":0.8},{"x":0.828,"y":0.77},{"x":0.83,"y":0.75},{"x":0.832,"y":0.73},{"x":0.834,"y":0.77},{"x":0.836,"y":0.75},{"x":0.838,"y":0.88},{"x":0.84,"y":0.78},{"x":0.842,"y":0.76},{"x":0.845,"y":0.74},{"x":0.848,"y":0.72},{"x":0.85,"y":0.77},{"x":0.852,"y":0.79},{"x":0.855,"y":0.78},{"x":0.858,"y":0.76},{"x":0.86,"y":0.8},{"x":0.862,"y":0.83},{"x":0.864,"y":0.79},{"x":0.866,"y":0.82},{"x":0.868,"y":0.78},{"x":0.87,"y":0.84},{"x":0.872,"y":0.71},{"x":0.874,"y":0.83},{"x":0.876,"y":0.78},{"x":0.878,"y":0.75},{"x":0.88,"y":0.81},{"x":0.882,"y":0.79},{"x":0.884,"y":0.85},{"x":0.886,"y":0.74},{"x":0.888,"y":0.82},{"x":0.89,"y":0.8},{"x":0.892,"y":0.86},{"x":0.894,"y":0.83},{"x":0.896,"y":0.76},{"x":0.898,"y":0.88},{"x":0.9,"y":0.9},
      {"x":0.902,"y":0.84},{"x":0.904,"y":0.82},{"x":0.905,"y":0.87},{"x":0.906,"y":0.91},{"x":0.908,"y":0.86},{"x":0.91,"y":0.83},{"x":0.912,"y":0.89},{"x":0.914,"y":0.85},{"x":0.915,"y":0.8},{"x":0.916,"y":0.88},{"x":0.918,"y":0.84},{"x":0.92,"y":0.87},{"x":0.922,"y":0.82},{"x":0.924,"y":0.86},{"x":0.925,"y":0.89},{"x":0.926,"y":0.83},{"x":0.928,"y":0.84},{"x":0.93,"y":0.9},{"x":0.932,"y":0.86},{"x":0.934,"y":0.85},{"x":0.936,"y":0.88},{"x":0.938,"y":0.87},{"x":0.94,"y":0.91},{"x":0.942,"y":0.84},{"x":0.944,"y":0.89},{"x":0.946,"y":0.86},{"x":0.948,"y":0.93},{"x":0.95,"y":0.88},
      {"x":0.951,"y":0.84},{"x":0.952,"y":0.92},{"x":0.953,"y":0.82},{"x":0.954,"y":0.9},{"x":0.955,"y":0.86},{"x":0.956,"y":0.94},{"x":0.957,"y":0.89},{"x":0.958,"y":0.85},{"x":0.959,"y":0.91},{"x":0.96,"y":0.93},{"x":0.961,"y":0.87},{"x":0.962,"y":0.95},{"x":0.963,"y":0.9},{"x":0.964,"y":0.86},{"x":0.965,"y":0.92},{"x":0.966,"y":0.94},{"x":0.967,"y":0.88},{"x":0.968,"y":0.93},{"x":0.969,"y":0.91},{"x":0.97,"y":0.95},{"x":0.971,"y":0.89},{"x":0.972,"y":0.92},{"x":0.973,"y":0.94},{"x":0.974,"y":0.9},{"x":0.975,"y":0.93},{"x":0.976,"y":0.88},{"x":0.977,"y":0.95},{"x":0.978,"y":0.91},{"x":0.979,"y":0.93},{"x":0.98,"y":0.89},{"x":0.981,"y":0.92},{"x":0.982,"y":0.94},{"x":0.983,"y":0.9},{"x":0.984,"y":0.91},{"x":0.985,"y":0.93},{"x":0.986,"y":0.9},{"x":0.987,"y":0.92},{"x":0.96,"y":0.9},{"x":0.965,"y":0.91},{"x":0.97,"y":0.92},{"x":0.968,"y":0.89},{"x":0.962,"y":0.92},{"x":0.972,"y":0.935},{"x":0.967,"y":0.93},{"x":0.975,"y":0.91},{"x":0.958,"y":0.93},{"x":0.955,"y":0.82},{"x":0.96,"y":0.85},{"x":0.964,"y":0.96},{"x":0.97,"y":0.87}
    ],
    "D": [
      {"x":0.166,"y":0.51},{"x":0.188,"y":0.1},{"x":0.19,"y":0.085},{"x":0.193,"y":0.535},{"x":0.196,"y":0.11},{"x":0.205,"y":0.035},{"x":0.213,"y":0.235},{"x":0.215,"y":0.295},{"x":0.225,"y":0.055},{"x":0.228,"y":0.3},{"x":0.234,"y":0.03},{"x":0.236,"y":0.225},{"x":0.238,"y":0.29},{"x":0.242,"y":0.28},{"x":0.246,"y":0.285},{"x":0.253,"y":0.475},{"x":0.254,"y":0.49},{"x":0.253,"y":0.38},{"x":0.254,"y":0.36},{"x":0.255,"y":0.42},{"x":0.254,"y":0.33},{"x":0.253,"y":0.12},{"x":0.255,"y":0.1},{"x":0.256,"y":0.005},{"x":0.258,"y":0.03},{"x":0.26,"y":0.14},{"x":0.262,"y":0.265},{"x":0.263,"y":0.25},{"x":0.264,"y":0.04},{"x":0.266,"y":0.21},{"x":0.267,"y":0.15},{"x":0.268,"y":0.065},{"x":0.27,"y":0.13},{"x":0.272,"y":0.24},{"x":0.274,"y":0.02},{"x":0.276,"y":0.45},{"x":0.278,"y":0.64},{"x":0.279,"y":0.19},{"x":0.28,"y":0.16},{"x":0.281,"y":0.005},{"x":0.282,"y":0.11},{"x":0.283,"y":0.24},{"x":0.284,"y":0.05},{"x":0.285,"y":0.18},{"x":0.286,"y":0.085},{"x":0.287,"y":0.28},{"x":0.288,"y":0.025},{"x":0.289,"y":0.175},{"x":0.29,"y":0.1},{"x":0.291,"y":0.3},{"x":0.292,"y":0.22},{"x":0.293,"y":0.46},{"x":0.294,"y":0.31},{"x":0.295,"y":0.0},{"x":0.296,"y":0.12},{"x":0.297,"y":0.2},{"x":0.298,"y":0.47},{"x":0.299,"y":0.16},
      {"x":0.3,"y":0.35},{"x":0.301,"y":0.445},{"x":0.302,"y":0.23},{"x":0.303,"y":0.075},{"x":0.304,"y":0.19},{"x":0.305,"y":0.39},{"x":0.306,"y":0.28},{"x":0.307,"y":0.06},{"x":0.308,"y":0.14},{"x":0.309,"y":0.215},{"x":0.31,"y":0.295},{"x":0.311,"y":0.1},{"x":0.312,"y":0.5},{"x":0.313,"y":0.03},{"x":0.314,"y":0.17},{"x":0.315,"y":0.36},{"x":0.316,"y":0.04},{"x":0.317,"y":0.335},{"x":0.318,"y":0.23},{"x":0.319,"y":0.13},{"x":0.32,"y":0.435},{"x":0.321,"y":0.24},{"x":0.322,"y":0.065},{"x":0.323,"y":0.38},{"x":0.324,"y":0.3},{"x":0.325,"y":0.4},{"x":0.326,"y":0.46},{"x":0.327,"y":0.175},{"x":0.328,"y":0.69},{"x":0.329,"y":0.55},{"x":0.33,"y":0.1},{"x":0.331,"y":0.32},{"x":0.332,"y":0.015},{"x":0.333,"y":0.35},{"x":0.334,"y":0.27},{"x":0.335,"y":0.05},{"x":0.336,"y":0.2},{"x":0.337,"y":0.42},{"x":0.338,"y":0.345},{"x":0.339,"y":0.14},{"x":0.34,"y":0.06},{"x":0.341,"y":0.56},{"x":0.342,"y":0.25},{"x":0.343,"y":0.48},{"x":0.344,"y":0.65},{"x":0.345,"y":0.31},{"x":0.346,"y":0.19},{"x":0.347,"y":0.53},{"x":0.348,"y":0.45},{"x":0.349,"y":0.1},{"x":0.35,"y":0.36},
      {"x":0.351,"y":0.58},{"x":0.352,"y":0.66},{"x":0.353,"y":0.02},{"x":0.354,"y":0.22},{"x":0.355,"y":0.075},{"x":0.356,"y":0.41},{"x":0.357,"y":0.29},{"x":0.358,"y":0.5},{"x":0.359,"y":0.145},{"x":0.36,"y":0.38},{"x":0.361,"y":0.26},{"x":0.362,"y":0.045},{"x":0.363,"y":0.33},{"x":0.364,"y":0.505},{"x":0.365,"y":0.16},{"x":0.366,"y":0.44},{"x":0.367,"y":0.57},{"x":0.368,"y":0.24},{"x":0.369,"y":0.01},{"x":0.37,"y":0.66},{"x":0.371,"y":0.31},{"x":0.372,"y":0.12},{"x":0.373,"y":0.35},{"x":0.374,"y":0.2},{"x":0.375,"y":0.45},{"x":0.376,"y":0.0},{"x":0.377,"y":0.29},{"x":0.378,"y":0.56},{"x":0.379,"y":0.15},{"x":0.38,"y":0.4},{"x":0.381,"y":0.22},{"x":0.382,"y":0.52},{"x":0.383,"y":0.08},{"x":0.384,"y":0.36},{"x":0.385,"y":0.27},{"x":0.386,"y":0.43},{"x":0.387,"y":0.18},{"x":0.388,"y":0.055},{"x":0.389,"y":0.3},{"x":0.39,"y":0.54},{"x":0.391,"y":0.21},{"x":0.392,"y":0.33},{"x":0.393,"y":0.125},{"x":0.394,"y":0.47},{"x":0.395,"y":0.38},{"x":0.396,"y":0.02},{"x":0.397,"y":0.28},{"x":0.398,"y":0.16},{"x":0.399,"y":0.42},{"x":0.4,"y":0.23},
      {"x":0.401,"y":0.55},{"x":0.402,"y":0.085},{"x":0.403,"y":0.31},{"x":0.404,"y":0.46},{"x":0.405,"y":0.2},{"x":0.406,"y":0.71},{"x":0.407,"y":0.37},{"x":0.408,"y":0.6},{"x":0.409,"y":0.14},{"x":0.41,"y":0.045},{"x":0.411,"y":0.29},{"x":0.412,"y":0.64},{"x":0.413,"y":0.25},{"x":0.414,"y":0.5},{"x":0.415,"y":0.585},{"x":0.416,"y":0.12},{"x":0.417,"y":0.35},{"x":0.418,"y":0.055},{"x":0.419,"y":0.48},{"x":0.42,"y":0.2},{"x":0.421,"y":0.27},{"x":0.422,"y":0.4},{"x":0.423,"y":0.155},{"x":0.424,"y":0.07},{"x":0.425,"y":0.31},{"x":0.426,"y":0.38},{"x":0.427,"y":0.52},{"x":0.428,"y":0.1},{"x":0.429,"y":0.25},{"x":0.43,"y":0.065},{"x":0.431,"y":0.45},{"x":0.432,"y":0.185},{"x":0.433,"y":0.5},{"x":0.434,"y":0.28},{"x":0.435,"y":0.615},{"x":0.436,"y":0.745},{"x":0.437,"y":0.21},{"x":0.438,"y":0.42},{"x":0.439,"y":0.015},{"x":0.44,"y":0.34},{"x":0.441,"y":0.05},{"x":0.442,"y":0.4},{"x":0.443,"y":0.13},{"x":0.444,"y":0.26},{"x":0.445,"y":0.54},{"x":0.446,"y":0.17},{"x":0.447,"y":0.37},{"x":0.448,"y":0.01},{"x":0.449,"y":0.64},{"x":0.45,"y":0.235},
      {"x":0.451,"y":0.49},{"x":0.452,"y":0.095},{"x":0.453,"y":0.3},{"x":0.454,"y":0.42},{"x":0.455,"y":0.2},{"x":0.456,"y":0.06},{"x":0.457,"y":0.29},{"x":0.458,"y":0.58},{"x":0.459,"y":0.14},{"x":0.46,"y":0.35},{"x":0.461,"y":0.25},{"x":0.462,"y":0.44},{"x":0.463,"y":0.09},{"x":0.464,"y":0.53},{"x":0.465,"y":0.22},{"x":0.466,"y":0.31},{"x":0.467,"y":0.17},{"x":0.468,"y":0.37},{"x":0.469,"y":0.575},{"x":0.47,"y":0.05},{"x":0.471,"y":0.3},{"x":0.472,"y":0.24},{"x":0.473,"y":0.5},{"x":0.474,"y":0.125},{"x":0.475,"y":0.32},{"x":0.476,"y":0.41},{"x":0.477,"y":0.21},{"x":0.478,"y":0.66},{"x":0.479,"y":0.07},{"x":0.48,"y":0.28},{"x":0.481,"y":0.54},{"x":0.482,"y":0.18},{"x":0.483,"y":0.36},{"x":0.484,"y":0.23},{"x":0.485,"y":0.45},{"x":0.486,"y":0.1},{"x":0.487,"y":0.31},{"x":0.488,"y":0.49},{"x":0.489,"y":0.15},{"x":0.49,"y":0.26},{"x":0.491,"y":0.375},{"x":0.492,"y":0.02},{"x":0.493,"y":0.2},{"x":0.494,"y":0.34},{"x":0.495,"y":0.62},{"x":0.496,"y":0.13},{"x":0.497,"y":0.46},{"x":0.498,"y":0.25},{"x":0.499,"y":0.6},{"x":0.5,"y":0.09},
      {"x":0.501,"y":0.22},{"x":0.502,"y":0.38},{"x":0.503,"y":0.26},{"x":0.504,"y":0.47},{"x":0.505,"y":0.16},{"x":0.506,"y":0.29},{"x":0.507,"y":0.52},{"x":0.508,"y":0.21},{"x":0.509,"y":0.4},{"x":0.51,"y":0.135},{"x":0.511,"y":0.46},{"x":0.512,"y":0.25},{"x":0.513,"y":0.36},{"x":0.514,"y":0.07},{"x":0.515,"y":0.19},{"x":0.516,"y":0.45},{"x":0.517,"y":0.28},{"x":0.52,"y":0.33},{"x":0.522,"y":0.09},{"x":0.524,"y":0.23},{"x":0.526,"y":0.03},{"x":0.528,"y":0.72},{"x":0.53,"y":0.41},{"x":0.532,"y":0.18},{"x":0.534,"y":0.36},{"x":0.536,"y":0.005},{"x":0.538,"y":0.13},{"x":0.54,"y":0.27},{"x":0.542,"y":0.0},{"x":0.544,"y":0.59},{"x":0.546,"y":0.44},{"x":0.548,"y":0.22},{"x":0.55,"y":0.5},
      {"x":0.551,"y":0.06},{"x":0.552,"y":0.32},{"x":0.553,"y":0.41},{"x":0.554,"y":0.2},{"x":0.555,"y":0.12},{"x":0.556,"y":0.575},{"x":0.557,"y":0.27},{"x":0.558,"y":0.35},{"x":0.559,"y":0.22},{"x":0.56,"y":0.45},{"x":0.561,"y":0.025},{"x":0.562,"y":0.3},{"x":0.563,"y":0.14},{"x":0.565,"y":0.38},{"x":0.567,"y":0.2},{"x":0.569,"y":0.28},{"x":0.571,"y":0.43},{"x":0.573,"y":0.25},{"x":0.575,"y":0.015},{"x":0.577,"y":0.33},{"x":0.579,"y":0.5},{"x":0.581,"y":0.18},{"x":0.583,"y":0.26},{"x":0.585,"y":0.35},{"x":0.587,"y":0.13},{"x":0.589,"y":0.22},{"x":0.591,"y":0.555},{"x":0.593,"y":0.3},{"x":0.595,"y":0.1},{"x":0.597,"y":0.27},{"x":0.599,"y":0.42},
      {"x":0.601,"y":0.18},{"x":0.603,"y":0.36},{"x":0.605,"y":0.04},{"x":0.607,"y":0.28},{"x":0.609,"y":0.54},{"x":0.611,"y":0.2},{"x":0.613,"y":0.41},{"x":0.615,"y":0.15},{"x":0.617,"y":0.3},{"x":0.619,"y":0.06},{"x":0.621,"y":0.44},{"x":0.623,"y":0.25},{"x":0.625,"y":0.55},{"x":0.627,"y":0.33},{"x":0.629,"y":0.21},{"x":0.631,"y":0.38},{"x":0.633,"y":0.28},{"x":0.635,"y":0.12},{"x":0.637,"y":0.41},{"x":0.639,"y":0.26},{"x":0.641,"y":0.51},{"x":0.643,"y":0.16},{"x":0.645,"y":0.585},{"x":0.647,"y":0.37},{"x":0.649,"y":0.21},
      {"x":0.651,"y":0.08},{"x":0.653,"y":0.28},{"x":0.655,"y":0.39},{"x":0.657,"y":0.12},{"x":0.659,"y":0.43},{"x":0.661,"y":0.33},{"x":0.663,"y":0.22},{"x":0.665,"y":0.5},{"x":0.667,"y":0.19},{"x":0.669,"y":0.39},{"x":0.671,"y":0.07},{"x":0.673,"y":0.28},{"x":0.675,"y":0.56},{"x":0.677,"y":0.23},{"x":0.679,"y":0.35},{"x":0.681,"y":0.52},{"x":0.683,"y":0.085},{"x":0.685,"y":0.27},{"x":0.687,"y":0.42},{"x":0.689,"y":0.11},{"x":0.69,"y":0.055},{"x":0.691,"y":0.3},{"x":0.693,"y":0.21},{"x":0.695,"y":0.35},{"x":0.697,"y":0.49},{"x":0.699,"y":0.28},
      {"x":0.701,"y":0.12},{"x":0.703,"y":0.41},{"x":0.705,"y":0.34},{"x":0.707,"y":0.22},{"x":0.709,"y":0.53},{"x":0.711,"y":0.3},{"x":0.713,"y":0.46},{"x":0.715,"y":0.35},{"x":0.717,"y":0.25},{"x":0.719,"y":0.55},{"x":0.721,"y":0.33},{"x":0.723,"y":0.4},{"x":0.725,"y":0.1},{"x":0.727,"y":0.45},{"x":0.729,"y":0.16},{"x":0.731,"y":0.37},{"x":0.733,"y":0.29},{"x":0.735,"y":0.44},{"x":0.737,"y":0.5},{"x":0.739,"y":0.32},{"x":0.741,"y":0.41},{"x":0.743,"y":0.09},{"x":0.745,"y":0.25},{"x":0.747,"y":0.38},{"x":0.749,"y":0.59},
      {"x":0.751,"y":0.14},{"x":0.752,"y":0.47},{"x":0.754,"y":0.23},{"x":0.756,"y":0.42},{"x":0.758,"y":0.34},{"x":0.76,"y":0.52},{"x":0.762,"y":0.28},{"x":0.764,"y":0.44},{"x":0.766,"y":0.37},{"x":0.768,"y":0.26},{"x":0.77,"y":0.645},{"x":0.771,"y":0.21},{"x":0.772,"y":0.49},{"x":0.773,"y":0.4},{"x":0.774,"y":0.31},{"x":0.775,"y":0.6},{"x":0.776,"y":0.45},{"x":0.777,"y":0.36},{"x":0.778,"y":0.645},{"x":0.779,"y":0.28},{"x":0.78,"y":0.5},{"x":0.781,"y":0.38},{"x":0.782,"y":0.42},{"x":0.783,"y":0.56},{"x":0.784,"y":0.33},{"x":0.785,"y":0.47},{"x":0.786,"y":0.25},{"x":0.787,"y":0.41},{"x":0.788,"y":0.37},{"x":0.789,"y":0.52},{"x":0.79,"y":0.3},{"x":0.791,"y":0.44},{"x":0.792,"y":0.39},{"x":0.793,"y":0.29},{"x":0.794,"y":0.58},{"x":0.795,"y":0.41},{"x":0.796,"y":0.36},{"x":0.797,"y":0.46},{"x":0.798,"y":0.27},{"x":0.799,"y":0.4},
      {"x":0.8,"y":0.6},{"x":0.801,"y":0.45},{"x":0.802,"y":0.28},{"x":0.803,"y":0.38},{"x":0.804,"y":0.48},{"x":0.805,"y":0.25},{"x":0.806,"y":0.42},{"x":0.807,"y":0.35},{"x":0.808,"y":0.5},{"x":0.809,"y":0.4},{"x":0.81,"y":0.43},{"x":0.811,"y":0.32},{"x":0.812,"y":0.57},{"x":0.813,"y":0.36},{"x":0.814,"y":0.46},{"x":0.815,"y":0.4},{"x":0.816,"y":0.55},{"x":0.817,"y":0.33},{"x":0.818,"y":0.47},{"x":0.819,"y":0.42},{"x":0.82,"y":0.38},{"x":0.822,"y":0.5},{"x":0.824,"y":0.35},{"x":0.826,"y":0.6},{"x":0.828,"y":0.43},{"x":0.83,"y":0.3},{"x":0.832,"y":0.46},{"x":0.834,"y":0.4},{"x":0.836,"y":0.53},{"x":0.838,"y":0.36},{"x":0.84,"y":0.45},{"x":0.842,"y":0.49},{"x":0.844,"y":0.34},{"x":0.846,"y":0.42},{"x":0.848,"y":0.6},{"x":0.85,"y":0.47},
      {"x":0.852,"y":0.4},{"x":0.854,"y":0.52},{"x":0.856,"y":0.35},{"x":0.858,"y":0.44},{"x":0.86,"y":0.3},{"x":0.862,"y":0.47},{"x":0.864,"y":0.41},{"x":0.866,"y":0.28},{"x":0.868,"y":0.51},{"x":0.87,"y":0.42},{"x":0.872,"y":0.38},{"x":0.874,"y":0.655},{"x":0.876,"y":0.41},{"x":0.878,"y":0.58},{"x":0.88,"y":0.45},{"x":0.882,"y":0.36},{"x":0.884,"y":0.5},{"x":0.886,"y":0.43},{"x":0.888,"y":0.33},{"x":0.89,"y":0.49},{"x":0.892,"y":0.55},{"x":0.894,"y":0.4},{"x":0.896,"y":0.46},{"x":0.898,"y":0.51},{"x":0.9,"y":0.43},{"x":0.902,"y":0.58},{"x":0.904,"y":0.47},{"x":0.906,"y":0.39},{"x":0.908,"y":0.44},{"x":0.91,"y":0.5},{"x":0.912,"y":0.34},{"x":0.914,"y":0.46},{"x":0.916,"y":0.41},{"x":0.918,"y":0.52},{"x":0.92,"y":0.49},{"x":0.922,"y":0.4},{"x":0.924,"y":0.5},{"x":0.926,"y":0.42},{"x":0.928,"y":0.33},{"x":0.93,"y":0.4},{"x":0.932,"y":0.49},{"x":0.935,"y":0.53},{"x":0.938,"y":0.46},{"x":0.94,"y":0.54},{"x":0.945,"y":0.52},{"x":0.95,"y":0.43},{"x":0.955,"y":0.47},{"x":0.958,"y":0.44},{"x":0.96,"y":0.46},{"x":0.975,"y":0.5}
    ],
    "one": [{}]
  },
  "vconcat": [
    {
      "hconcat": [
        {
          "title": {"text": "A", "anchor": "start", "frame": "bounds", "fontSize": 17, "fontWeight": "bold", "offset": 9, "dx": 8},
          "vconcat": [
            {
              "title": {"text": ["Module membership vs. gene significance", "cor=0.77, p=1.6e−147"], "offset": -10},
              "width": 380, "height": 290,
              "layer": [
                {
                  "data": {"name": "A"},
                  "mark": {"type": "point", "shape": "circle", "filled": false, "color": "#0000FF", "size": 22, "strokeWidth": 1, "opacity": 1},
                  "encoding": {
                    "x": {"field": "x", "type": "quantitative", "scale": {"domain": [0.274, 0.976], "nice": false, "zero": false}, "axis": {"values": [0.3, 0.4, 0.5, 0.6, 0.7, 0.8, 0.9], "format": ".1f", "title": "Module Membership in blue module"}},
                    "y": {"field": "y", "type": "quantitative", "scale": {"domain": [-0.022, 0.851], "nice": false, "zero": false}, "axis": {"values": [0, 0.2, 0.4, 0.6, 0.8], "format": ".1f", "title": "Gene significance for High−immune response"}}
                  }
                },
                {"data": {"name": "one"}, "mark": {"type": "rule", "color": "red", "opacity": 0.7, "strokeWidth": 1}, "encoding": {"x": {"datum": 0.8, "type": "quantitative"}}},
                {"data": {"name": "one"}, "mark": {"type": "rule", "color": "red", "opacity": 0.7, "strokeWidth": 1}, "encoding": {"y": {"datum": 0.2, "type": "quantitative"}}}
              ]
            }
          ]
        },
        {
          "title": {"text": "B", "anchor": "start", "frame": "bounds", "fontSize": 17, "fontWeight": "bold", "offset": 9, "dx": -41},
          "vconcat": [
            {
              "title": {"text": ["Module membership vs. gene significance", "cor=0.78, p=2.6e−76"]},
              "width": 380, "height": 290,
              "layer": [
                {
                  "data": {"name": "B"},
                  "mark": {"type": "point", "shape": "circle", "filled": false, "color": "#FFFF00", "size": 22, "strokeWidth": 1, "opacity": 1},
                  "encoding": {
                    "x": {"field": "x", "type": "quantitative", "scale": {"domain": [0.2814, 0.9066], "nice": false, "zero": false}, "axis": {"values": [0.3, 0.4, 0.5, 0.6, 0.7, 0.8, 0.9], "format": ".1f", "title": "Module Membership in yellow module"}},
                    "y": {"field": "y", "type": "quantitative", "scale": {"domain": [0.0525, 0.7775], "nice": false, "zero": false}, "axis": {"values": [0.1, 0.2, 0.3, 0.4, 0.5, 0.6, 0.7], "format": ".1f", "title": "Gene significance for Pigmentation"}}
                  }
                },
                {"data": {"name": "one"}, "mark": {"type": "rule", "color": "red", "opacity": 0.7, "strokeWidth": 1}, "encoding": {"x": {"datum": 0.8, "type": "quantitative"}}},
                {"data": {"name": "one"}, "mark": {"type": "rule", "color": "red", "opacity": 0.7, "strokeWidth": 1}, "encoding": {"y": {"datum": 0.2, "type": "quantitative"}}}
              ]
            }
          ]
        }
      ],
      "spacing": 60
    },
    {
      "hconcat": [
        {
          "title": {"text": "C", "anchor": "start", "frame": "bounds", "fontSize": 17, "fontWeight": "bold", "offset": 5, "dx": 8},
          "vconcat": [
            {
              "title": {"text": ["Module membership vs. gene significance", "cor=0.98, p<1e−200"]},
              "width": 380, "height": 290,
              "layer": [
                {
                  "data": {"name": "C"},
                  "mark": {"type": "point", "shape": "circle", "filled": false, "color": "#A52A2A", "size": 22, "strokeWidth": 1, "opacity": 1},
                  "encoding": {
                    "x": {"field": "x", "type": "quantitative", "scale": {"domain": [0.268, 1.0145], "nice": false, "zero": false}, "axis": {"values": [0.3, 0.4, 0.5, 0.6, 0.7, 0.8, 0.9, 1.0], "format": ".1f", "title": "Module Membership in brown module"}},
                    "y": {"field": "y", "type": "quantitative", "scale": {"domain": [0.121, 0.983], "nice": false, "zero": false}, "axis": {"values": [0.2, 0.4, 0.6, 0.8], "format": ".1f", "title": "Gene significance for Normal−like"}}
                  }
                },
                {"data": {"name": "one"}, "mark": {"type": "rule", "color": "red", "opacity": 0.7, "strokeWidth": 1}, "encoding": {"x": {"datum": 0.8, "type": "quantitative"}}},
                {"data": {"name": "one"}, "mark": {"type": "rule", "color": "red", "opacity": 0.7, "strokeWidth": 1}, "encoding": {"y": {"datum": 0.2, "type": "quantitative"}}}
              ]
            }
          ]
        },
        {
          "title": {"text": "D", "anchor": "start", "frame": "bounds", "fontSize": 17, "fontWeight": "bold", "offset": 5, "dx": -37},
          "vconcat": [
            {
              "title": {"text": ["Module membership vs. gene significance", "cor=0.42, p=5.7e−42"]},
              "width": 380, "height": 290,
              "layer": [
                {
                  "data": {"name": "D"},
                  "mark": {"type": "point", "shape": "circle", "filled": false, "color": "#40E0D0", "size": 22, "strokeWidth": 1, "opacity": 1},
                  "encoding": {
                    "x": {"field": "x", "type": "quantitative", "scale": {"domain": [0.134, 1.005], "nice": false, "zero": false}, "axis": {"values": [0.2, 0.4, 0.6, 0.8, 1.0], "format": ".1f", "title": "Module Membership in turquoise module"}},
                    "y": {"field": "y", "type": "quantitative", "scale": {"domain": [-0.028, 0.771], "nice": false, "zero": false}, "axis": {"values": [0, 0.2, 0.4, 0.6], "format": ".1f", "title": "Gene significance for Proliferative"}}
                  }
                },
                {"data": {"name": "one"}, "mark": {"type": "rule", "color": "red", "opacity": 0.7, "strokeWidth": 1}, "encoding": {"x": {"datum": 0.8, "type": "quantitative"}}},
                {"data": {"name": "one"}, "mark": {"type": "rule", "color": "red", "opacity": 0.7, "strokeWidth": 1}, "encoding": {"y": {"datum": 0.2, "type": "quantitative"}}}
              ]
            }
          ]
        }
      ],
      "spacing": 60
    }
  ],
  "spacing": 58
}
